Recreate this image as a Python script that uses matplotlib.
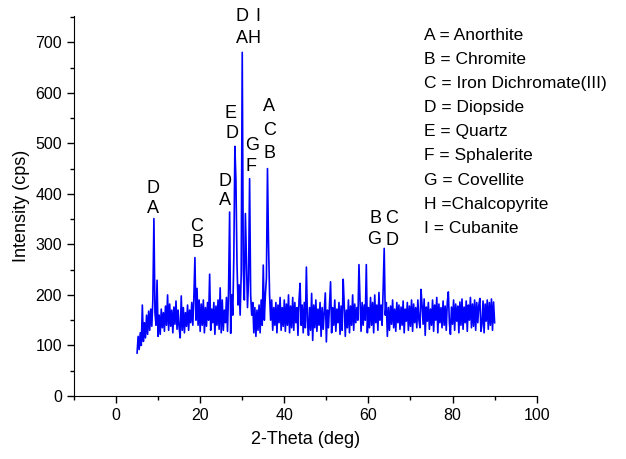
import numpy as np
import matplotlib.pyplot as plt
from matplotlib.ticker import MultipleLocator

plt.rcParams['font.family'] = ['Liberation Sans', 'DejaVu Sans']

# 2-theta scan: 5 to 90 deg, 0.25 deg step
theta_start, theta_stop, theta_step = 5.0, 90.0, 0.25

# intensity (cps), 20 points per 5 deg block
intensity = [
    # 5 - 9.75
    85, 118, 92, 125, 100, 180, 108, 145, 115, 160, 122, 168, 130, 172, 138, 190, 351, 165, 140, 229,
    # 10 - 14.75
    118, 160, 122, 172, 135, 165, 128, 178, 140, 200, 130, 182, 138, 170, 125, 176, 142, 188, 132, 170,
    # 15 - 19.75
    135, 115, 198, 130, 175, 125, 165, 138, 180, 130, 170, 145, 185, 140, 195, 274, 150, 213, 140, 190,
    # 20 - 24.75
    128, 182, 140, 190, 125, 175, 138, 185, 150, 241, 130, 172, 145, 185, 122, 178, 140, 190, 132, 214,
    # 25 - 29.75
    125, 190, 130, 170, 145, 195, 128, 210, 364, 124, 200, 160, 275, 494, 427, 263, 180, 220, 160, 240,
    # 30 - 34.75
    680, 250, 190, 361, 263, 175, 230, 430, 200, 160, 185, 125, 175, 118, 170, 130, 180, 125, 190, 140,
    # 35 - 39.75
    259, 150, 200, 233, 450, 300, 200, 150, 190, 130, 175, 140, 185, 125, 180, 145, 195, 130, 175, 138,
    # 40 - 44.75
    190, 128, 182, 140, 200, 125, 178, 135, 195, 130, 185, 145, 175, 120, 190, 223, 140, 180, 125, 185,
    # 45 - 49.75
    135, 255, 150, 120, 175, 130, 203, 110, 180, 135, 190, 128, 172, 140, 185, 118, 175, 132, 168, 204,
    # 50 - 54.75
    107, 170, 135, 180, 226, 125, 175, 140, 190, 128, 172, 145, 185, 122, 178, 130, 231, 180, 118, 170,
    # 55 - 59.75
    135, 190, 125, 178, 140, 200, 130, 182, 145, 175, 150, 260, 190, 128, 185, 140, 180, 150, 260, 125,
    # 60 - 64.75
    175, 135, 195, 140, 185, 125, 200, 145, 180, 130, 205, 150, 180, 140, 210, 292, 160, 185, 118, 175,
    # 65 - 69.75
    130, 178, 142, 190, 135, 172, 128, 185, 145, 180, 132, 176, 140, 188, 125, 172, 148, 185, 130, 178,
    # 70 - 74.75
    138, 190, 128, 182, 145, 175, 135, 190, 150, 135, 211, 180, 142, 192, 120, 176, 148, 185, 132, 172,
    # 75 - 79.75
    140, 190, 128, 180, 150, 195, 125, 182, 145, 175, 135, 188, 140, 178, 130, 185, 206, 145, 122, 176,
    # 80 - 84.75
    142, 190, 130, 182, 148, 178, 125, 186, 140, 192, 132, 176, 145, 188, 128, 180, 150, 195, 135, 182,
    # 85 - 90
    138, 190, 130, 185, 145, 180, 193, 128, 142, 188, 125, 182, 148, 190, 132, 185, 140, 192, 130, 186, 145,
]
two_theta = np.arange(theta_start, theta_stop + theta_step / 2, theta_step)

# phase letters above the peaks: (letter, 2-theta, height)
peak_labels = [
    ('D', 8.8, 411), ('A', 8.8, 371),
    ('C', 19.25, 336), ('B', 19.25, 304),
    ('D', 25.9, 425), ('A', 25.9, 386),
    ('E', 27.1, 560), ('D', 27.6, 520),
    ('D', 29.9, 751), ('I', 33.6, 751), ('A', 30.0, 708), ('H', 32.9, 708),
    ('G', 32.3, 495), ('F', 32.1, 454),
    ('A', 36.4, 572), ('C', 36.6, 526), ('B', 36.6, 480),
    ('B', 61.6, 351), ('C', 65.5, 351), ('G', 61.3, 310), ('D', 65.5, 307),
]

phases = [
    'A = Anorthite',
    'B = Chromite',
    'C = Iron Dichromate(III)',
    'D = Diopside',
    'E = Quartz',
    'F = Sphalerite',
    'G = Covellite',
    'H =Chalcopyrite',
    'I = Cubanite',
]

fig = plt.figure(figsize=(6.26, 4.59), dpi=100)
ax = fig.add_axes([0.1182, 0.1373, 0.7391, 0.8278])

ax.plot(two_theta, intensity, color='blue', lw=1.2)

for letter, x, y in peak_labels:
    ax.text(x, y, letter, ha='center', va='center', fontsize=13)

for i, name in enumerate(phases):
    ax.text(73.2, 713 - 47.6 * i, name, ha='left', va='center', fontsize=12.5)

ax.set_xlim(-10, 100)
ax.set_ylim(0, 752)
ax.xaxis.set_major_locator(MultipleLocator(20))
ax.xaxis.set_minor_locator(MultipleLocator(10))
ax.yaxis.set_major_locator(MultipleLocator(100))
ax.yaxis.set_minor_locator(MultipleLocator(50))
ax.set_yticks(range(0, 701, 100))

ax.spines['top'].set_visible(False)
ax.spines['right'].set_visible(False)
ax.tick_params(which='major', direction='out', length=5, width=1, labelsize=11.5)
ax.tick_params(which='minor', direction='out', length=3, width=1)

ax.set_xlabel('2-Theta (deg)', fontsize=13, labelpad=6)
ax.set_ylabel('Intensity (cps)', fontsize=13, labelpad=4)

fig.savefig('out.png', dpi=100)
